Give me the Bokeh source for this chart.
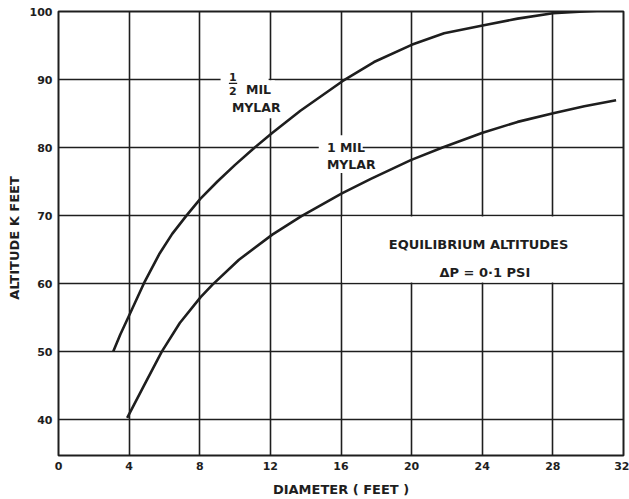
from bokeh.plotting import figure
from bokeh.models import FixedTicker
from bokeh.core.properties import value
from bokeh.embed import file_html
from bokeh.resources import INLINE

# Data
half_mil_diameter = [3.1, 3.5, 4.0, 4.84, 5.7, 6.44, 7.28, 8.03, 9.0, 10.0, 11.0, 12.1, 13.7,
                     16.08, 17.87, 20.0, 21.84, 24.02, 26.0, 28.0, 30.5]
half_mil_altitude = [50.0, 52.5, 55.3, 60.05, 64.3, 67.3, 70.1, 72.45, 75.0, 77.45, 79.75, 82.15, 85.4,
                     89.75, 92.57, 95.1, 96.8, 97.95, 98.95, 99.75, 100.1]

one_mil_diameter = [3.89, 4.84, 5.85, 6.87, 8.05, 8.71, 10.22, 12.11, 13.76, 16.05, 17.69,
                    19.95, 21.75, 24.02, 26.0, 28.02, 29.78, 31.58]
one_mil_altitude = [40.25, 45.0, 50.0, 54.2, 58.0, 59.8, 63.5, 67.2, 69.92, 73.27, 75.4,
                    78.15, 80.0, 82.16, 83.77, 85.05, 86.07, 86.95]

x_ticks = [0, 4, 8, 12, 16, 20, 24, 28, 32]
y_ticks = [40, 50, 60, 70, 80, 90, 100]

FONT = value("DejaVu Sans")
INK = "#1e1e1e"

p = figure(width=629, height=499, x_range=(0, 32), y_range=(34.72, 100),
           output_backend="svg", toolbar_location=None,
           min_border_left=58, min_border_right=6, min_border_top=11, min_border_bottom=43)

p.background_fill_color = "white"
p.border_fill_color = "white"
p.outline_line_color = INK
p.outline_line_width = 2

p.xaxis.ticker = FixedTicker(ticks=x_ticks)
p.yaxis.ticker = FixedTicker(ticks=y_ticks)
for ax in (p.xaxis, p.yaxis):
    ax.axis_line_color = None
    ax.major_tick_line_color = None
    ax.minor_tick_line_color = None
    ax.major_tick_in = 0
    ax.major_tick_out = 0
    ax.major_label_text_font = "DejaVu Sans"
    ax.major_label_text_font_style = "bold"
    ax.major_label_text_font_size = "11px"
    ax.major_label_text_color = INK
    ax.major_label_standoff = 6
    ax.axis_label_text_font = "DejaVu Sans"
    ax.axis_label_text_font_style = "bold"
    ax.axis_label_text_font_size = "13px"
    ax.axis_label_text_color = INK

p.xaxis.axis_label = "DIAMETER ( FEET )"
p.xaxis.axis_label_standoff = 9
p.yaxis.axis_label = "ALTITUDE  K  FEET"
p.yaxis.axis_label_standoff = 5

for g in (p.xgrid, p.ygrid):
    g.grid_line_color = INK
    g.grid_line_width = 1.6
    g.grid_line_alpha = 1.0

# White patches that interrupt the grid behind the labels
p.quad(left=[9.18, 11.79, 14.74, 16.07], right=[11.9, 12.25, 17.23, 31.93],
       bottom=[84.3, 84.3, 76.25, 60.15], top=[91.35, 89.9, 81.82, 69.85],
       fill_color="white", line_color=None)

# Curves
p.line(half_mil_diameter, half_mil_altitude, line_color=INK, line_width=2.6, line_join="round")
p.line(one_mil_diameter, one_mil_altitude, line_color=INK, line_width=2.6, line_join="round")

# Curve labels
p.text(x=[9.88], y=[90.3], text=["1"], text_font=FONT, text_font_style="bold",
       text_font_size="11px", text_align="center", text_baseline="middle", text_color=INK)
p.segment(x0=[9.65], y0=[89.42], x1=[10.12], y1=[89.42], line_color=INK, line_width=1.3)
p.text(x=[9.88], y=[88.3], text=["2"], text_font=FONT, text_font_style="bold",
       text_font_size="11px", text_align="center", text_baseline="middle", text_color=INK)
p.text(x=[10.62, 9.82, 15.2, 15.2], y=[88.56, 85.85, 80.06, 77.57],
       text=["MIL", "MYLAR", "1 MIL", "MYLAR"], text_font=FONT, text_font_style="bold",
       text_font_size="12.5px", text_align="left", text_baseline="middle", text_color=INK)

# Annotation box text
p.text(x=[23.92], y=[65.69], text=["EQUILIBRIUM  ALTITUDES"], text_font=FONT,
       text_font_style="bold", text_font_size="13px", text_align="center",
       text_baseline="middle", text_color=INK)
p.text(x=[24.15], y=[61.58], text=["ΔP = 0·1 PSI"], text_font=FONT,
       text_font_style="bold", text_font_size="13px", text_align="center",
       text_baseline="middle", text_color=INK)

open("out.html", "w").write(file_html(p, INLINE))
